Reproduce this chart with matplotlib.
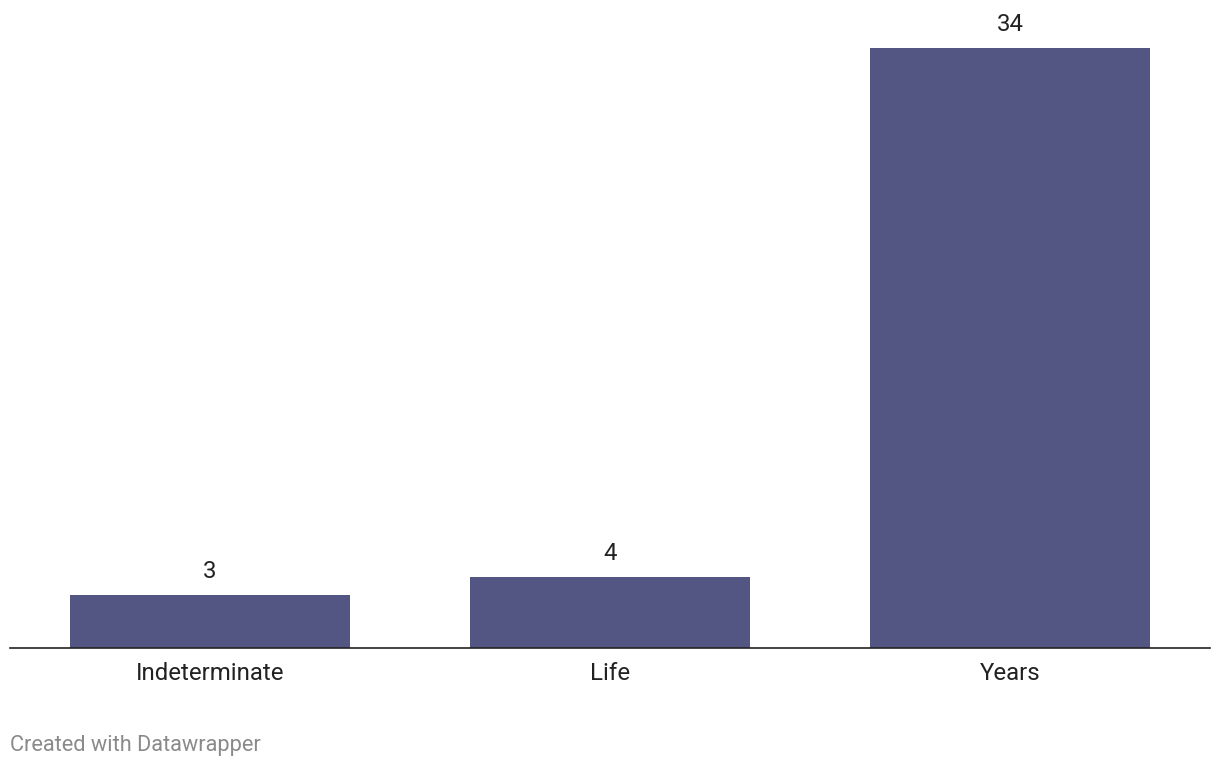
import matplotlib
matplotlib.use("Agg")
import matplotlib.pyplot as plt

plt.rcParams.update({
    "font.family": ["Roboto", "DejaVu Sans"],
    "font.size": 17,
})

categories = ["Indeterminate", "Life", "Years"]
values = [3, 4, 34]

BAR_COLOR = "#535582"

W, H = 1220, 768
fig = plt.figure(figsize=(W / 100, H / 100), dpi=100)
# axes: baseline at y=648 px, top of tallest bar at y=48 px
ax = fig.add_axes([10 / W, (H - 648) / H, 1200 / W, 600 / H])

x = range(len(categories))
bars = ax.bar(x, values, width=0.7, color=BAR_COLOR, zorder=2)
ax.set_xlim(-0.5, len(categories) - 0.5)
ax.set_ylim(0, max(values))

for b, v in zip(bars, values):
    ax.annotate(str(v), (b.get_x() + b.get_width() / 2, v),
                xytext=(0, 17), textcoords="offset points",
                ha="center", va="center", fontsize=17.3, color="#222222",
                annotation_clip=False)

for i, c in enumerate(categories):
    ax.annotate(c, (i, 0), xytext=(0, -18), textcoords="offset points",
                ha="center", va="center", fontsize=17.3, color="#222222",
                annotation_clip=False)

for s in ["top", "right", "left"]:
    ax.spines[s].set_visible(False)
ax.spines["bottom"].set_color("#222222")
ax.spines["bottom"].set_linewidth(1.2)
ax.set_xticks([])
ax.set_yticks([])

fig.text(10 / W, 1 - 745 / H, "Created with Datawrapper", ha="left", va="center",
         fontsize=15.7, color="#8a8a8a")

fig.savefig("out.png", dpi=100)
